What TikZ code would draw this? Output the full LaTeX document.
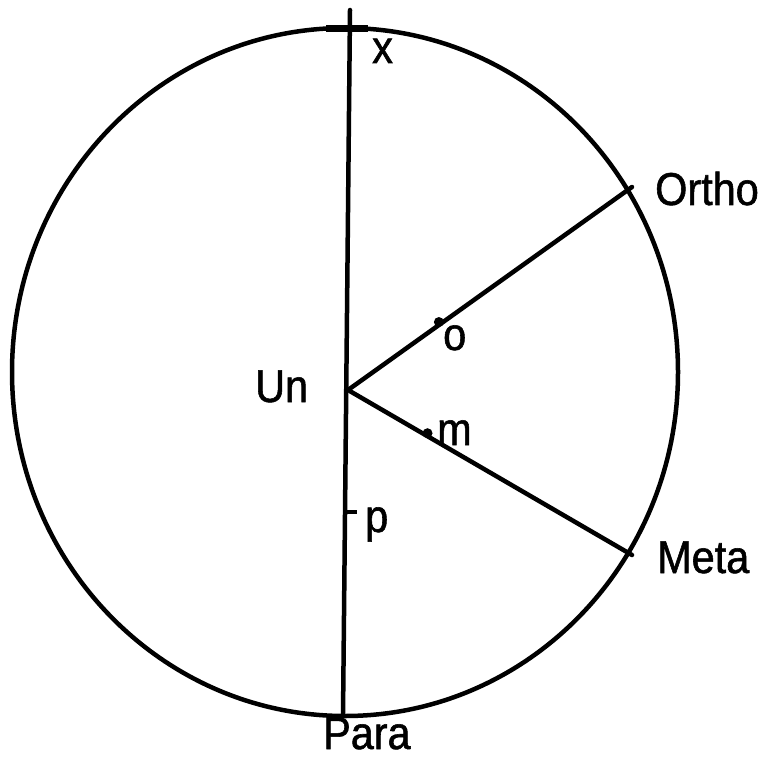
\documentclass[tikz,border=0pt]{standalone}
\usepackage{fontspec}
\setmainfont{Liberation Sans}[FakeStretch=0.9,FakeBold=1.2]
\usepackage{xcolor}
\usepackage{tikz}
\usetikzlibrary{calc}
\tikzset{
  ringline/.style={line width=4.5pt,line cap=round},
  lbl/.style={anchor=base west,inner sep=0pt,font=\fontsize{46}{46}\selectfont},
  blob/.style={circle,fill=black,inner sep=0pt,minimum size=10pt}
}
\begin{document}
\begin{tikzpicture}[x=1pt,y=-1pt]
\useasboundingbox (0,0) rectangle (770,759);
% ring and end points
\draw[ringline] (345,372) ellipse [x radius=333,y radius=344];
\coordinate (top) at (350,10);
\coordinate (un) at (348,390);
\coordinate (para) at (343,716);
\coordinate (ortho) at (632,187);
\coordinate (meta) at (632,555);
\draw[line width=7pt] (326,29) -- (368,29);
% spokes
\draw[ringline] (top) -- (para);
\draw[ringline] (un) -- (ortho);
\draw[ringline] (un) -- (meta);
\node[blob] (odot) at ($(un)!0.32!(ortho)+(0,-3)$) {};
\node[blob] (mdot) at ($(un)!0.28!(meta)+(0,-3)$) {};
\coordinate (ptick) at (345,512);
\draw[line width=4pt] (ptick) -- ++(12,0);
% labels
\node[lbl] (xl) at (372,63) {x};
\node[lbl] (orthol) at (655,205) {Ortho};
\node[lbl] (ol) at (443,350) {o};
\node[lbl] (unl) at (255,402) {Un};
\node[lbl] (ml) at (437,445) {m};
\node[lbl] (pl) at (365,532) {p};
\node[lbl] (metal) at (657,573) {Meta};
\node[lbl] (paral) at (323,749) {Para};
\end{tikzpicture}
\end{document}
